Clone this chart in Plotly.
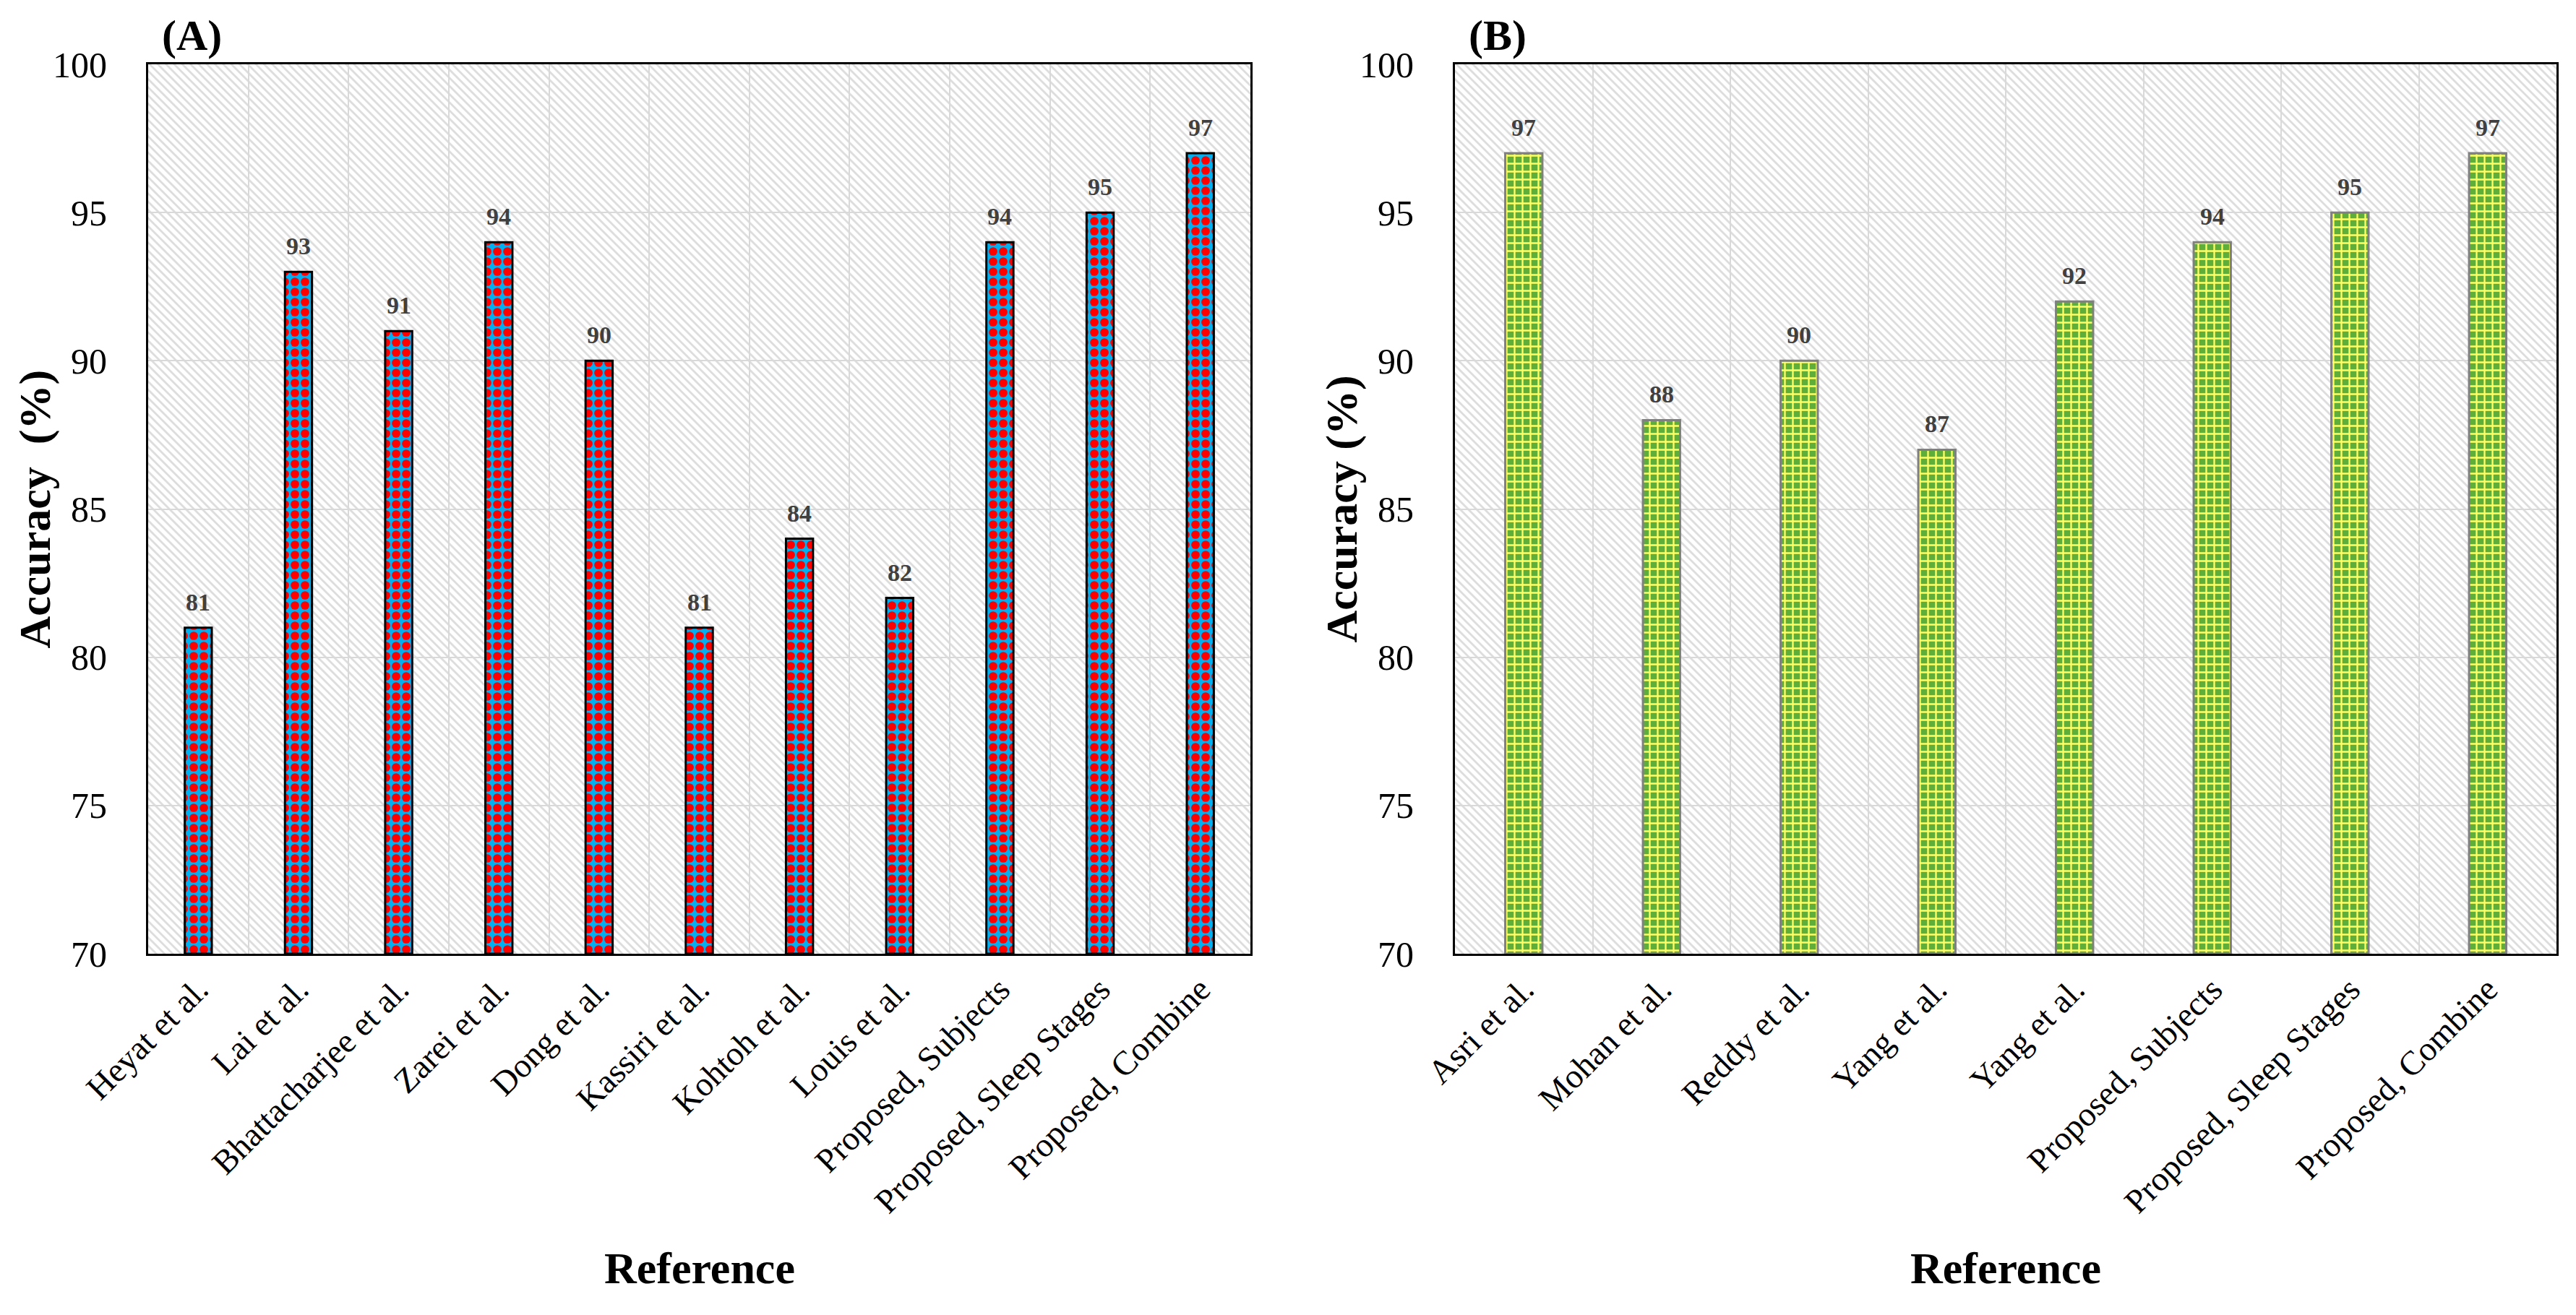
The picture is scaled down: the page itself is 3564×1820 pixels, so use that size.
import base64
import plotly.graph_objects as go

# ---------------- data ----------------
cats_a = ["Heyat et al.", "Lai et al.", "Bhattacharjee et al.", "Zarei et al.",
          "Dong et al.", "Kassiri et al.", "Kohtoh et al.", "Louis et al.",
          "Proposed, Subjects", "Proposed, Sleep Stages", "Proposed, Combine"]
acc_a = [81, 93, 91, 94, 90, 81, 84, 82, 94, 95, 97]

cats_b = ["Asri et al.", "Mohan et al.", "Reddy et al.", "Yang et al.",
          "Yang et al.", "Proposed, Subjects", "Proposed, Sleep Stages",
          "Proposed, Combine"]
acc_b = [97, 88, 90, 87, 92, 94, 95, 97]

y_ticks = [70, 75, 80, 85, 90, 95, 100]
panel_titles = ["(A)", "(B)"]
y_title_a = "Accuracy\u00a0 (%)"
y_title_b = "Accuracy (%)"
x_title = "Reference"

# ---------------- layout geometry (pixels) ----------------
W, H = 3564, 1820
PA = (205, 1730)     # panel A plot x-range in px
PB = (2013, 3537)    # panel B plot x-range in px
PY = (89, 1320)      # plot y-range in px (top, bottom)

FONT = "Liberation Serif"


def xdom(p):
    return [p[0] / W, p[1] / W]


ydom = [1 - PY[1] / H, 1 - PY[0] / H]


def hatch_uri(w, h):
    svg = (
        f'<svg xmlns="http://www.w3.org/2000/svg" width="{w}" height="{h}">'
        '<defs><pattern id="p" width="8" height="8" patternUnits="userSpaceOnUse" '
        'patternTransform="rotate(-45)">'
        '<rect width="8" height="8" fill="white"/>'
        '<line x1="1.5" y1="0" x2="1.5" y2="8" stroke="#dadada" stroke-width="2.6"/>'
        '</pattern></defs>'
        '<rect width="100%" height="100%" fill="url(#p)"/></svg>'
    )
    return "data:image/svg+xml;base64," + base64.b64encode(svg.encode()).decode()


fig = go.Figure()

fig.add_trace(go.Bar(
    x=list(range(len(cats_a))), y=[v - y_ticks[0] for v in acc_a], base=y_ticks[0],
    width=0.27, xaxis="x", yaxis="y",
    marker=dict(color="#00B0F0", line=dict(color="black", width=3),
                pattern=dict(shape=".", fgcolor="#FF0000", bgcolor="#00B0F0",
                             fgopacity=1, size=14, solidity=0.55, fillmode="overlay")),
    showlegend=False, hoverinfo="skip",
))

fig.add_trace(go.Bar(
    x=list(range(len(cats_b))), y=[v - y_ticks[0] for v in acc_b], base=y_ticks[0],
    width=0.27, xaxis="x2", yaxis="y2",
    marker=dict(color="#6AB23E", line=dict(color="#808080", width=3),
                pattern=dict(shape="+", fgcolor="#FFFF66", bgcolor="#5FAE3A",
                             fgopacity=1, size=11, solidity=0.38, fillmode="overlay")),
    showlegend=False, hoverinfo="skip",
))


def xaxis_cfg(p, cats, anchor):
    n = len(cats)
    return dict(
        domain=xdom(p), anchor=anchor, range=[-0.5, n - 0.5], automargin=False,
        tickmode="array", tickvals=list(range(n)), ticktext=cats,
        tickangle=-45, tickfont=dict(family=FONT, size=47, color="black"),
        showgrid=False, zeroline=False, ticks="",
        showline=True, mirror=True, linecolor="black", linewidth=3,
        minor=dict(tickmode="array", tickvals=[k - 0.5 for k in range(n + 1)],
                   showgrid=True, gridcolor="#d9d9d9", gridwidth=2, ticks=""),
        fixedrange=True,
    )


def yaxis_cfg(anchor):
    return dict(
        domain=ydom, anchor=anchor, range=[y_ticks[0], y_ticks[-1]], automargin=False,
        tickmode="array", tickvals=y_ticks,
        tickfont=dict(family=FONT, size=50, color="black"),
        showgrid=True, gridcolor="#d9d9d9", gridwidth=2, zeroline=False,
        ticks="", ticklabelstandoff=44,
        showline=True, mirror=True, linecolor="black", linewidth=3,
        fixedrange=True,
    )


annotations = []
for xr, yr, vals in (("x", "y", acc_a), ("x2", "y2", acc_b)):
    for i, v in enumerate(vals):
        annotations.append(dict(
            x=i, y=v, xref=xr, yref=yr, text=str(v), showarrow=False,
            yanchor="bottom", yshift=15,
            font=dict(family=FONT, size=34, color="#404040", weight="bold"),
        ))

for p, t, yt in ((PA, panel_titles[0], y_title_a), (PB, panel_titles[1], y_title_b)):
    annotations.append(dict(
        x=(p[0] + 17) / W, y=1 - 49 / H, xref="paper", yref="paper",
        text=t, showarrow=False, xanchor="left", yanchor="middle",
        font=dict(family=FONT, size=60, color="black", weight="bold"),
    ))
    annotations.append(dict(
        x=(p[0] - 157) / W, y=1 - ((PY[0] + PY[1]) / 2) / H, xref="paper", yref="paper",
        text=yt, showarrow=False, xanchor="center", yanchor="middle", textangle=-90,
        font=dict(family=FONT, size=62, color="black", weight="bold"),
    ))
    annotations.append(dict(
        x=((p[0] + p[1]) / 2) / W, y=1 - 1755 / H, xref="paper", yref="paper",
        text=x_title, showarrow=False, xanchor="center", yanchor="middle",
        font=dict(family=FONT, size=62, color="black", weight="bold"),
    ))

images = []
for xr, yr, p in (("x domain", "y domain", PA), ("x2 domain", "y2 domain", PB)):
    images.append(dict(
        source=hatch_uri(p[1] - p[0], PY[1] - PY[0]),
        xref=xr, yref=yr, x=0, y=1, sizex=1, sizey=1,
        xanchor="left", yanchor="top", sizing="stretch", layer="below",
    ))

fig.update_layout(
    width=W, height=H, margin=dict(l=0, r=0, t=0, b=0),
    paper_bgcolor="white", plot_bgcolor="white",
    xaxis=xaxis_cfg(PA, cats_a, "y"),
    yaxis=yaxis_cfg("x"),
    xaxis2=xaxis_cfg(PB, cats_b, "y2"),
    yaxis2=yaxis_cfg("x2"),
    annotations=annotations, images=images,
    barmode="overlay", font=dict(family=FONT),
)

fig.write_html("out.html", post_script="document.body.style.margin='0';",
               config={"displayModeBar": False})
